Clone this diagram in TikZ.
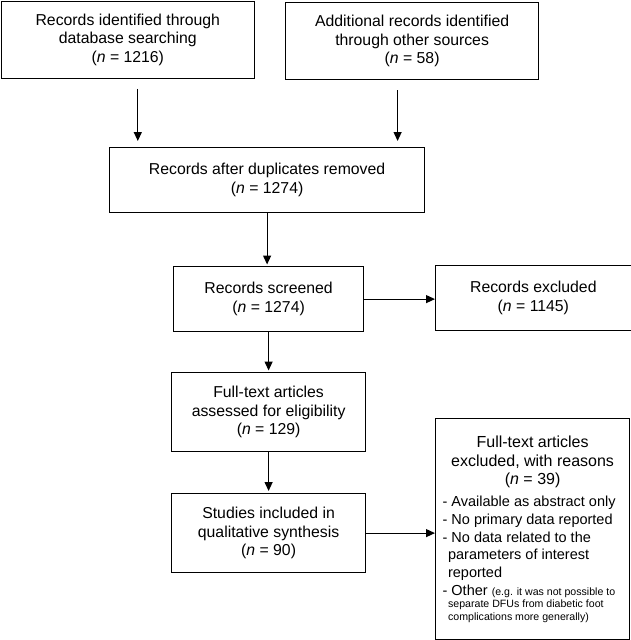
\documentclass[tikz,border=0pt]{standalone}
\usepackage{fontspec}
\setmainfont{Liberation Sans}
\usetikzlibrary{arrows.meta}
\tikzset{
  box/.style={draw=black, line width=1.2pt, fill=white, inner sep=0pt, anchor=north west,
    align=center, font=\fontsize{15.8}{18.5}\selectfont},
  arr/.style={line width=1.2pt, -{Triangle[length=9pt,width=8pt]}},
}
\begin{document}
\begin{tikzpicture}[x=1pt,y=-1pt]
\useasboundingbox (0,0) rectangle (631,640);
\node[box, minimum width=253pt, minimum height=77pt] (b1) at (0.7,0.7)
  {Records identified through\\database searching\\(\textit{n} = 1216)};
\node[box, minimum width=253pt, minimum height=77pt] (b2) at (285,2)
  {Additional records identified\\through other sources\\(\textit{n} = 58)};
\node[box, minimum width=315pt, minimum height=65pt] (b3) at (109,147)
  {Records after duplicates removed\\(\textit{n} = 1274)};
\node[box, minimum width=190pt, minimum height=65pt] (b4) at (173,266)
  {Records screened\\(\textit{n} = 1274)};
\node[box, minimum width=195.5pt, minimum height=65pt] (e1) at (435,265)
  {Records excluded\\(\textit{n} = 1145)};
\node[box, minimum width=194pt, minimum height=79pt] (b5) at (171,372)
  {Full-text articles\\assessed for eligibility\\(\textit{n} = 129)};
\node[box, minimum width=194pt, minimum height=79pt] (b6) at (171,493)
  {Studies included in\\qualitative synthesis\\(\textit{n} = 90)};
\node[box, minimum width=194pt, minimum height=221pt] (e2) at (435,418)
  {\begin{minipage}{180pt}
   {\centering\fontsize{16}{18.7}\selectfont Full-text articles\\excluded, with reasons\\(\textit{n} = 39)\par}
   \vspace{4pt}
   {\raggedright\fontsize{14.5}{17.7}\selectfont
   - Available as abstract only\par
   - No primary data reported\par
   - No data related to the\\\hspace*{5.5pt}parameters of interest\\\hspace*{5.5pt}reported\par
   - Other {\fontsize{10.6}{12.5}\selectfont (e.g. it was not possible to}\par}
   {\raggedright\fontsize{10.6}{12.5}\selectfont
   \hspace*{5.5pt}separate DFUs from diabetic foot\\\hspace*{5.5pt}complications more generally)\par}
   \end{minipage}};
\draw[arr, shorten <=10pt, shorten >=6pt] ([xshift=10pt]b1.south) -- ([xshift=10pt]b1.south |- b3.north);
\draw[arr, shorten <=10pt, shorten >=6pt] ([xshift=-14.5pt]b2.south) -- ([xshift=-14.5pt]b2.south |- b3.north);
\draw[arr, shorten >=1.5pt] (b3.south) -- (b3.south |- b4.north);
\draw[arr] (b4.east) -- (b4.east -| e1.west);
\draw[arr, shorten >=1.5pt] (b4.south) -- (b4.south |- b5.north);
\draw[arr, shorten >=2pt] (b5.south) -- (b5.south |- b6.north);
\draw[arr] (b6.east) -- (b6.east -| e2.west);
\end{tikzpicture}
\end{document}
